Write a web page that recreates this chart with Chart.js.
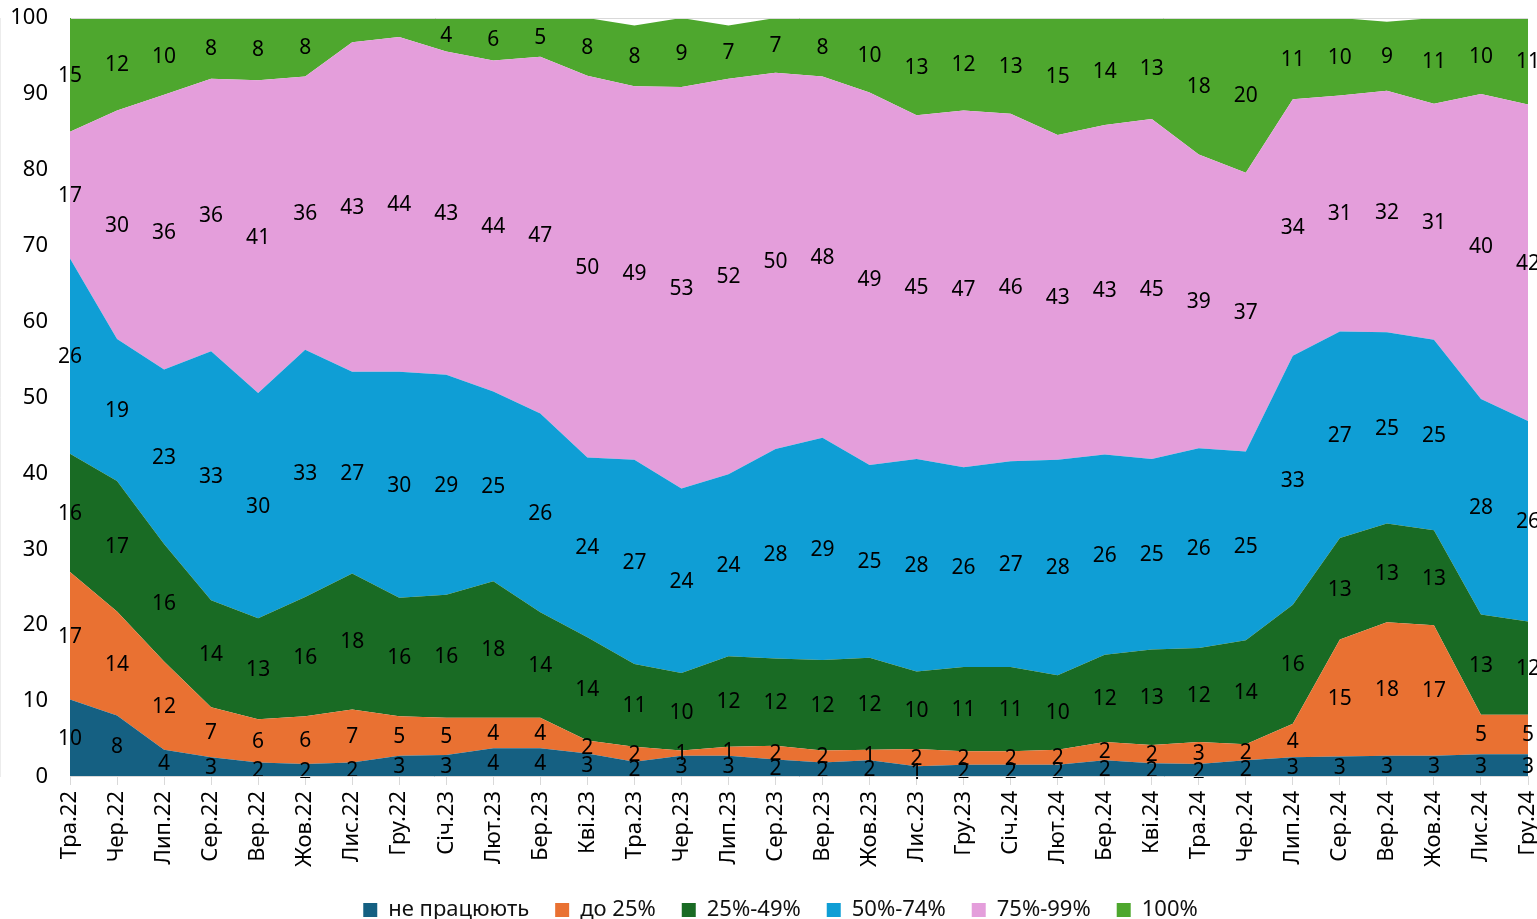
<!DOCTYPE html>
<html lang="uk">
  <head>
    <meta charset="UTF-8" />
    <title>Частка працюючих підприємств</title>
    <script src="https://cdn.jsdelivr.net/npm/chart.js"></script>
    <style>
      html,
      body {
        margin: 0;
        padding: 0;
        background: #fff;
      }

      .wrap {
        position: relative;
        width: 1537px;
        height: 919px;
      }
    </style>
  </head>
  <body>
    <div class="wrap">
      <canvas id="chart"></canvas>
    </div>

    <script>
      const months = [
        "Тра.22", "Чер.22", "Лип.22", "Сер.22", "Вер.22", "Жов.22", "Лис.22", "Гру.22",
        "Січ.23", "Лют.23", "Бер.23", "Кві.23", "Тра.23", "Чер.23", "Лип.23", "Сер.23",
        "Вер.23", "Жов.23", "Лис.23", "Гру.23", "Січ.24", "Лют.24", "Бер.24", "Кві.24",
        "Тра.24", "Чер.24", "Лип.24", "Сер.24", "Вер.24", "Жов.24", "Лис.24", "Гру.24",
      ];

      // shares, % (labels on the chart are these values rounded)
      const notWorking = [10.2, 8.1, 3.6, 2.6, 1.9, 1.7, 1.9, 2.8, 2.9, 3.8, 3.8, 3.1, 2.0, 2.8, 2.8, 2.3,
        1.9, 2.2, 1.4, 1.6, 1.6, 1.6, 2.2, 1.8, 1.7, 2.2, 2.6, 2.7, 2.8, 2.8, 3.0, 3.0];
      const upTo25 = [16.8, 13.7, 11.6, 6.6, 5.7, 6.3, 7.0, 5.2, 4.9, 4.0, 4.0, 1.7, 2.0, 0.7, 1.2, 1.8,
        1.6, 1.4, 2.3, 1.8, 1.8, 2.0, 2.4, 2.4, 2.9, 2.1, 4.4, 15.4, 17.6, 17.2, 5.2, 5.2];
      const from25to49 = [15.6, 17.2, 15.5, 14.1, 13.3, 15.7, 17.9, 15.6, 16.2, 18.0, 13.9, 13.6, 10.9, 10.2, 11.9, 11.5,
        11.9, 12.1, 10.2, 11.1, 11.1, 9.8, 11.5, 12.6, 12.4, 13.7, 15.7, 13.4, 13.0, 12.5, 13.2, 12.3];
      const from50to74 = [25.7, 18.7, 23.0, 32.8, 29.7, 32.6, 26.6, 29.8, 29.0, 25.0, 26.2, 23.7, 26.9, 24.3, 24.0, 27.6,
        29.3, 25.4, 28.0, 26.3, 27.1, 28.4, 26.4, 25.1, 26.3, 24.9, 32.8, 27.2, 25.2, 25.1, 28.4, 26.4];
      const from75to99 = [16.7, 30.1, 36.2, 35.9, 41.2, 36.0, 43.4, 44.1, 42.6, 43.6, 47.0, 50.3, 49.2, 52.9, 52.1, 49.6,
        47.6, 49.1, 45.3, 47.0, 45.8, 42.8, 43.4, 44.8, 38.7, 36.7, 33.8, 31.1, 31.8, 31.1, 40.2, 41.7];
      const full = [15.0, 12.2, 10.1, 8.0, 8.2, 7.7, 3.2, 2.5, 4.4, 5.6, 5.1, 7.6, 8.0, 9.1, 7.0, 7.2,
        7.7, 9.8, 12.8, 12.2, 12.6, 15.4, 14.1, 13.3, 18.0, 20.4, 10.7, 10.2, 9.1, 11.3, 10.0, 11.4];

      const yTicks = [0, 10, 20, 30, 40, 50, 60, 70, 80, 90, 100];

      // labels that are not shown on the original (dataset index -> point indexes)
      const hiddenLabels = { 5: [6, 7] };

      const FONT = "'Noto Sans', sans-serif";

      const series = [
        { label: "не працюють", data: notWorking, color: "#156082" },
        { label: "до 25%", data: upTo25, color: "#E97132" },
        { label: "25%-49%", data: from25to49, color: "#196B24" },
        { label: "50%-74%", data: from50to74, color: "#0F9ED5" },
        { label: "75%-99%", data: from75to99, color: "#E49EDB" },
        { label: "100%", data: full, color: "#4EA72E" },
      ];

      // value labels in the middle of each band
      const bandLabels = {
        id: "bandLabels",
        afterDatasetsDraw(chart) {
          const ctx = chart.ctx;
          const base = chart.scales.y.getPixelForValue(0);
          ctx.save();
          ctx.font = "21px " + FONT;
          ctx.fillStyle = "#000";
          ctx.textAlign = "center";
          ctx.textBaseline = "middle";
          chart.data.datasets.forEach((ds, d) => {
            const pts = chart.getDatasetMeta(d).data;
            const below = d > 0 ? chart.getDatasetMeta(d - 1).data : null;
            const skip = hiddenLabels[d] || [];
            pts.forEach((pt, i) => {
              if (skip.includes(i)) return;
              const bottom = below ? below[i].y : base;
              ctx.fillText(Math.round(ds.data[i]), pt.x, (pt.y + bottom) / 2 + 1);
            });
          });
          ctx.restore();
        },
      };

      // legend sits lower and a bit to the right, as in the original
      const tightLegend = {
        id: "tightLegend",
        beforeInit(chart) {
          const fit = chart.legend.fit;
          chart.legend.fit = function () {
            fit.call(this);
            this.height -= 12;
          };
        },
        afterLayout(chart) {
          chart.legend.left += 12;
          chart.legend.right += 12;
        },
      };

      new Chart(document.getElementById("chart"), {
        type: "line",
        data: {
          labels: months,
          datasets: series.map((s, i) => ({
            label: s.label,
            data: s.data,
            backgroundColor: s.color,
            borderColor: s.color,
            borderWidth: 0,
            pointRadius: 0,
            pointHoverRadius: 0,
            tension: 0,
            fill: i === 0 ? "origin" : "-1",
          })),
        },
        options: {
          responsive: true,
          maintainAspectRatio: false,
          animation: false,
          events: [],
          layout: { padding: { top: 18, left: 9, right: 9, bottom: 0 } },
          scales: {
            x: {
              offset: false,
              afterFit: (scale) => {
                scale.paddingLeft = 0;
                scale.paddingRight = 0;
              },
              grid: {
                drawOnChartArea: false,
                drawTicks: true,
                tickLength: 8,
                color: "#d9d9d9",
              },
              border: { color: "#d9d9d9", z: 1 },
              ticks: {
                autoSkip: false,
                minRotation: 90,
                maxRotation: 90,
                padding: 6,
                color: "#000",
                font: { family: FONT, size: 22 },
              },
            },
            y: {
              stacked: true,
              min: 0,
              max: 100,
              afterBuildTicks: (axis) => {
                axis.ticks = yTicks.map((v) => ({ value: v }));
              },
              afterFit: (scale) => {
                scale.width = 61;
                scale.paddingTop = 0;
                scale.paddingBottom = 0;
              },
              grid: {
                drawTicks: false,
                z: 1,
                color: (c) => (c.tick && c.tick.value === 100 ? "#d9d9d9" : "rgba(0,0,0,0)"),
              },
              border: { color: "#d9d9d9" },
              ticks: {
                padding: 22,
                color: "#000",
                font: { family: FONT, size: 22 },
              },
            },
          },
          plugins: {
            legend: {
              position: "bottom",
              labels: {
                boxWidth: 14,
                boxHeight: 14,
                padding: 26,
                color: "#111",
                font: { family: FONT, size: 22 },
              },
            },
            tooltip: { enabled: false },
          },
        },
        plugins: [bandLabels, tightLegend],
      });
    </script>
  </body>
</html>
